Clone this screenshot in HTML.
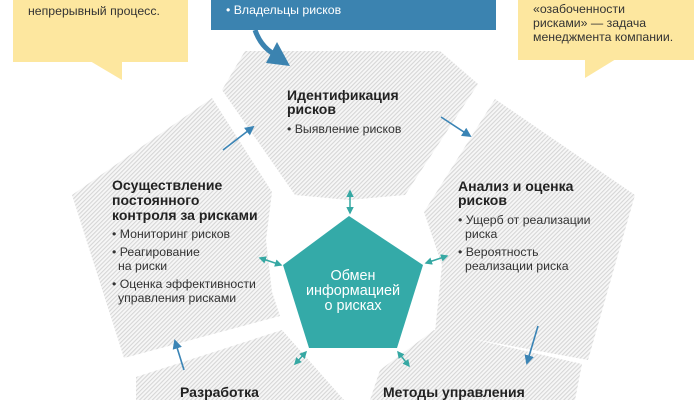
<!DOCTYPE html>
<html><head><meta charset="utf-8"><style>
body{margin:0;background:#fff}
svg{display:block}
text{font-family:"Liberation Sans","DejaVu Sans",sans-serif;font-size:12.3px;fill:#333}
.b{font-weight:bold;font-size:14px;fill:#222}
.w{fill:#fff;font-size:14.4px}
</style></head><body>
<svg width="700" height="400" viewBox="0 0 700 400" xmlns="http://www.w3.org/2000/svg">
<defs>
<pattern id="h" width="3" height="3" patternUnits="userSpaceOnUse" patternTransform="rotate(45)">
<rect width="3" height="3" fill="#f7f7f7"/><rect width="1.1" height="3" fill="#d6d6d6"/>
</pattern>
<marker id="ab" viewBox="0 0 10 10" refX="8" refY="5" markerWidth="6" markerHeight="6" orient="auto"><path d="M0,0L10,5L0,10z" fill="#3a84b5"/></marker>
<marker id="at" viewBox="0 0 10 10" refX="8" refY="5" markerWidth="5" markerHeight="5" orient="auto-start-reverse"><path d="M0,0L10,5L0,10z" fill="#36a8a3"/></marker>
</defs>
<polygon fill="url(#h)" points="245,51 440,51 478,84 405,195 349,200 295,195 222,90"/>
<polygon fill="url(#h)" points="495,99 635,195 588,360 435,332 442,265 424,212"/>
<polygon fill="url(#h)" points="370,400 380,370 434,330 582,364 575,400"/>
<polygon fill="url(#h)" points="136,377 282,330 344,400 136,400"/>
<polygon fill="url(#h)" points="212,98 72,195 124,358 280,316 272,292 266,240 272,192"/>
<polygon fill="#34aaa8" points="349,216 423,265 397,348 309,348 283,265"/>
<text class="w" x="353" y="280" text-anchor="middle">Обмен</text>
<text class="w" x="353" y="295" text-anchor="middle">информацией</text>
<text class="w" x="353" y="310" text-anchor="middle">о рисках</text>
<g stroke="#36a8a3" stroke-width="1.5" marker-start="url(#at)" marker-end="url(#at)">
<line x1="350" y1="191" x2="350" y2="213"/>
<line x1="260" y1="258" x2="281" y2="265"/>
<line x1="426" y1="263" x2="447" y2="256"/>
<line x1="306" y1="352" x2="295" y2="364"/>
<line x1="398" y1="352" x2="409" y2="366"/>
</g>
<g stroke="#3a84b5" stroke-width="1.6" marker-end="url(#ab)">
<line x1="223" y1="150" x2="253" y2="127"/>
<line x1="441" y1="117" x2="470" y2="136"/>
<line x1="538" y1="326" x2="527" y2="363"/>
<line x1="184" y1="370" x2="175" y2="341"/>
</g>
<rect x="211" y="0" width="285" height="30" fill="#3b83b0"/>
<text x="226" y="14" style="fill:#fff">• Владельцы рисков</text>
<path d="M255,30 Q262,50 280,57" stroke="#3b83b0" stroke-width="5" fill="none"/>
<polygon fill="#3b83b0" points="266,63 290,66 277,42"/>
<rect x="13" y="0" width="175" height="62" fill="#fde79f"/>
<polygon fill="#fde79f" points="90,61 122,61 122,80"/>
<text x="28" y="15">непрерывный процесс.</text>
<rect x="518" y="0" width="176" height="60" fill="#fde79f"/>
<polygon fill="#fde79f" points="585,59 616,59 585,78"/>
<text x="533" y="13">«озабоченности</text>
<text x="533" y="27">рисками» — задача</text>
<text x="533" y="41">менеджмента компании.</text>
<text class="b" x="287" y="100">Идентификация</text>
<text class="b" x="287" y="114">рисков</text>
<text x="287" y="133">• Выявление рисков</text>
<text class="b" x="458" y="191">Анализ и оценка</text>
<text class="b" x="458" y="205">рисков</text>
<text x="458" y="224">• Ущерб от реализации</text>
<text x="465" y="238">риска</text>
<text x="458" y="256">• Вероятность</text>
<text x="465" y="270">реализации риска</text>
<text class="b" x="112" y="190">Осуществление</text>
<text class="b" x="112" y="205">постоянного</text>
<text class="b" x="112" y="220">контроля за рисками</text>
<text x="112" y="238">• Мониторинг рисков</text>
<text x="112" y="256">• Реагирование</text>
<text x="118" y="270">на риски</text>
<text x="112" y="288">• Оценка эффективности</text>
<text x="118" y="302">управления рисками</text>
<text class="b" x="180" y="397">Разработка</text>
<text class="b" x="383" y="397">Методы управления</text>
</svg>
</body></html>
